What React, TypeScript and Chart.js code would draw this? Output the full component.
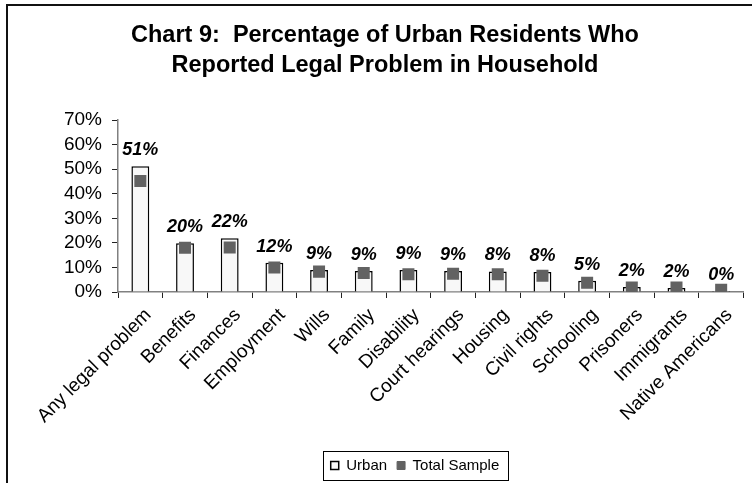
import React, { useEffect, useRef } from 'react';
import { Chart, registerables } from 'chart.js';

Chart.register(...registerables);

const FONT = '"Liberation Sans", Arial, Helvetica, sans-serif';

const categories = [
  'Any legal problem',
  'Benefits',
  'Finances',
  'Employment',
  'Wills',
  'Family',
  'Disability',
  'Court hearings',
  'Housing',
  'Civil rights',
  'Schooling',
  'Prisoners',
  'Immigrants',
  'Native Americans',
];

const urbanValues = [51.2, 19.9, 21.9, 11.9, 9.0, 8.6, 9.0, 8.6, 8.4, 8.1, 4.6, 2.0, 1.6, 0.4];
const totalSampleValues = [45.2, 18.0, 18.1, 10.0, 8.3, 7.7, 7.2, 7.4, 7.2, 6.6, 3.8, 1.8, 1.8, 0.9];

const seriesNames = ['Urban', 'Total Sample'];
const titleLines = ['Chart 9:  Percentage of Urban Residents Who', 'Reported Legal Problem in Household'];
const yMin = 0;
const yMax = 70;
const yStep = 10;

const shiftLegendPlugin = {
  id: 'shiftLegend',
  afterLayout(chart: any) {
    const l = chart.legend;
    if (l) {
      l.left += 30;
      l.right += 30;
    }
  },
};

const legendBorderPlugin = {
  id: 'legendBorder',
  afterDraw(chart: any) {
    const l = chart.legend;
    if (!l || !l.legendHitBoxes || !l.legendHitBoxes.length) return;
    const boxes = l.legendHitBoxes;
    const first = boxes[0];
    const last = boxes[boxes.length - 1];
    const x0 = first.left - 8;
    const x1 = last.left + last.width + 8;
    const cy = first.top + first.height / 2;
    const ctx = chart.ctx;
    ctx.save();
    ctx.strokeStyle = '#000';
    ctx.lineWidth = 1;
    ctx.strokeRect(Math.round(x0) + 0.5, Math.round(cy - 14.5) + 0.5, Math.round(x1 - x0), 29);
    ctx.restore();
  },
};

const dataLabelPlugin = {
  id: 'dataLabels',
  afterDatasetsDraw(chart: any) {
    const meta = chart.getDatasetMeta(0);
    const ctx = chart.ctx;
    ctx.save();
    ctx.font = `italic bold 18px ${FONT}`;
    ctx.fillStyle = '#000';
    ctx.textAlign = 'center';
    ctx.textBaseline = 'alphabetic';
    meta.data.forEach((el: any, i: number) => {
      const v = urbanValues[i];
      ctx.fillText(Math.round(v) + '%', el.x, el.y - 11);
    });
    ctx.restore();
  },
};

export default function App() {
  const canvasRef = useRef<HTMLCanvasElement | null>(null);

  useEffect(() => {
    if (!canvasRef.current) return;
    const chart = new Chart(canvasRef.current, {
      type: 'bar',
      data: {
        labels: categories,
        datasets: [
          {
            type: 'bar',
            label: seriesNames[0],
            data: urbanValues,
            backgroundColor: '#f8f8f8',
            borderColor: '#000',
            borderWidth: 1.5,
            barPercentage: 0.4,
            categoryPercentage: 1,
            order: 2,
          } as any,
          {
            type: 'line',
            label: seriesNames[1],
            data: totalSampleValues,
            showLine: false,
            pointStyle: 'rect',
            pointRadius: 8.5,
            pointHoverRadius: 8.5,
            pointBackgroundColor: '#626262',
            pointBorderColor: '#626262',
            pointBorderWidth: 0,
            backgroundColor: '#626262',
            borderColor: '#626262',
            borderWidth: 1,
            order: 1,
          } as any,
        ],
      },
      options: {
        responsive: false,
        animation: false,
        devicePixelRatio: 1,
        layout: { padding: { left: 20, right: 2, top: 0, bottom: 0 } },
        plugins: {
          title: {
            display: true,
            text: titleLines,
            color: '#000',
            font: { family: FONT, size: 23.5, weight: 'bold', lineHeight: 1.28 },
            padding: { top: 20, bottom: 40 },
          },
          legend: {
            position: 'bottom',
            labels: {
              boxWidth: 8,
              boxHeight: 8,
              color: '#000',
              font: { family: FONT, size: 15 },
              padding: 10,
              sort: (a: any, b: any) => a.datasetIndex - b.datasetIndex,
            },
          },
          tooltip: { enabled: false },
        },
        scales: {
          x: {
            offset: true,
            grid: {
              offset: true,
              drawOnChartArea: false,
              drawTicks: true,
              tickLength: 6,
              color: '#222',
            },
            border: { color: '#808080', width: 1.5 },
            ticks: {
              autoSkip: false,
              maxRotation: 45,
              minRotation: 45,
              color: '#000',
              font: { family: FONT, size: 19 },
              padding: 6,
              labelOffset: 8,
            },
            afterFit: (s: any) => {
              s.height = 156;
            },
          },
          y: {
            min: yMin,
            max: yMax,
            ticks: {
              stepSize: yStep,
              autoSkip: false,
              callback: (v: any) => v + '%',
              color: '#000',
              font: { family: FONT, size: 19 },
              padding: 10,
            },
            grid: { drawOnChartArea: false, tickLength: 6, color: '#222' },
            border: { color: '#808080', width: 1.5 },
            afterFit: (s: any) => {
              s.width = 98;
            },
          },
        },
      } as any,
      plugins: [shiftLegendPlugin, legendBorderPlugin, dataLabelPlugin],
    });
    return () => chart.destroy();
  }, []);

  return (
    <div
      style={{
        position: 'fixed',
        left: 0,
        top: 0,
        width: 752,
        height: 483,
        overflow: 'hidden',
        background: '#fff',
      }}
    >
      <div
        style={{
          position: 'absolute',
          left: 6,
          top: 4,
          width: 900,
          height: 700,
          borderLeft: '2px solid #111',
          borderTop: '2px solid #111',
        }}
      />
      <canvas
        ref={canvasRef}
        width={752}
        height={483}
        style={{ position: 'absolute', left: 0, top: 0, display: 'block' }}
      />
    </div>
  );
}
